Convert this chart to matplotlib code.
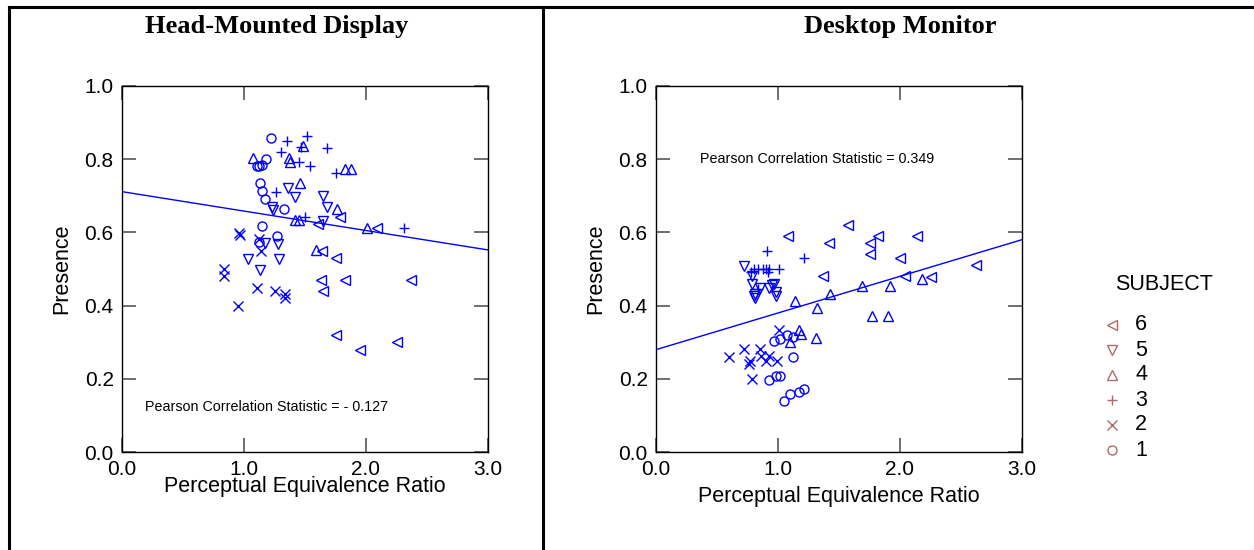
import matplotlib.pyplot as plt
from matplotlib.lines import Line2D
import numpy as np

# Marker per subject
SUBJECT_MARKERS = {1: 'o', 2: 'x', 3: '+', 4: '^', 5: 'v', 6: '<'}
POINT_COLOR = '#0000ff'
LEGEND_COLOR = '#b06a6a'

# Head-Mounted Display data (x = perceptual equivalence ratio, y = presence)
hmd_x = {
    1: [1.22, 1.18, 1.15, 1.11, 1.12, 1.13, 1.15, 1.17, 1.33, 1.15, 1.27, 1.12],
    2: [0.96, 0.97, 1.12, 1.14, 0.84, 0.84, 1.11, 1.25, 1.34, 1.34, 0.95],
    3: [1.35, 1.52, 1.47, 1.68, 1.30, 1.45, 1.54, 1.75, 1.26, 1.50, 2.31],
    4: [1.07, 1.37, 1.38, 1.48, 1.83, 1.88, 1.46, 1.76, 1.42, 1.45, 2.01, 1.59],
    5: [1.36, 1.42, 1.65, 1.68, 1.23, 1.235, 1.65, 1.17, 1.28, 1.03, 1.29, 1.13],
    6: [1.79, 2.09, 1.61, 1.64, 1.75, 1.63, 1.83, 2.37, 1.65, 1.75, 1.95, 2.25],
}
hmd_y = {
    1: [0.856, 0.80, 0.785, 0.78, 0.78, 0.735, 0.713, 0.69, 0.665, 0.617, 0.59, 0.574],
    2: [0.597, 0.593, 0.581, 0.55, 0.499, 0.481, 0.449, 0.44, 0.432, 0.422, 0.399],
    3: [0.85, 0.863, 0.833, 0.831, 0.82, 0.791, 0.781, 0.761, 0.711, 0.641, 0.611],
    4: [0.803, 0.803, 0.791, 0.835, 0.773, 0.773, 0.734, 0.663, 0.634, 0.634, 0.613, 0.552],
    5: [0.72, 0.697, 0.699, 0.668, 0.668, 0.661, 0.631, 0.57, 0.568, 0.527, 0.528, 0.498],
    6: [0.641, 0.611, 0.622, 0.55, 0.529, 0.47, 0.47, 0.47, 0.44, 0.319, 0.279, 0.30],
}

# Desktop Monitor data
desk_x = {
    1: [0.97, 1.02, 1.07, 1.12, 1.12, 0.93, 0.98, 1.02, 1.05, 1.10, 1.17, 1.21],
    2: [1.01, 0.72, 0.85, 0.60, 0.77, 0.76, 0.86, 0.90, 0.93, 0.99, 0.79],
    3: [0.91, 1.21, 0.78, 0.80, 0.84, 0.88, 0.90, 0.92, 0.93, 1.01, 0.84],
    4: [1.14, 1.43, 1.32, 1.31, 1.17, 1.19, 1.10, 1.69, 1.92, 2.18, 1.77, 1.90],
    5: [0.72, 0.79, 0.79, 0.85, 0.81, 0.81, 0.97, 0.93, 0.98, 0.98, 0.80, 0.95],
    6: [1.57, 1.08, 1.42, 1.37, 1.82, 2.14, 1.75, 1.75, 2.00, 2.04, 2.25, 2.62],
}
desk_y = {
    1: [0.304, 0.31, 0.32, 0.315, 0.259, 0.197, 0.207, 0.209, 0.139, 0.159, 0.165, 0.172],
    2: [0.333, 0.281, 0.281, 0.26, 0.25, 0.241, 0.263, 0.25, 0.263, 0.25, 0.20],
    3: [0.549, 0.53, 0.492, 0.50, 0.50, 0.50, 0.50, 0.493, 0.50, 0.50, 0.445],
    4: [0.413, 0.433, 0.393, 0.313, 0.334, 0.322, 0.302, 0.453, 0.453, 0.472, 0.372, 0.372],
    5: [0.509, 0.481, 0.46, 0.449, 0.433, 0.421, 0.46, 0.448, 0.438, 0.427, 0.425, 0.455],
    6: [0.62, 0.59, 0.57, 0.48, 0.59, 0.59, 0.57, 0.54, 0.53, 0.48, 0.479, 0.51],
}

# Regression fits: (intercept, slope)
hmd_fit = (0.711, -0.053)
desk_fit = (0.28, 0.10)

hmd_corr_text = 'Pearson Correlation Statistic = - 0.127'
desk_corr_text = 'Pearson Correlation Statistic = 0.349'

x_ticks = [0.0, 1.0, 2.0, 3.0]
y_ticks = [0.0, 0.2, 0.4, 0.6, 0.8, 1.0]

SANS = 'Liberation Sans'
SERIF = 'Liberation Serif'
W, H = 1254, 550


def draw_panel(ax, xs, ys, fit, corr_text, corr_pos, xlabel_y):
    for subj, marker in SUBJECT_MARKERS.items():
        filled = marker in ('x', '+')
        ax.plot(xs[subj], ys[subj], linestyle='none', marker=marker,
                markersize=7 if filled else 6.5,
                markerfacecolor=POINT_COLOR if filled else 'none',
                markeredgecolor=POINT_COLOR, markeredgewidth=1.0)

    line_x = np.array([0.0, 3.0])
    ax.plot(line_x, fit[0] + fit[1] * line_x, color=POINT_COLOR, linewidth=1.0)

    ax.text(corr_pos[0], corr_pos[1], corr_text, fontsize=10.3, family=SANS,
            color='black', va='center', ha='left')

    ax.set_xlim(0, 3)
    ax.set_ylim(0, 1)
    ax.set_xticks(x_ticks)
    ax.set_yticks(y_ticks)
    ax.set_xticklabels([f'{t:.1f}' for t in x_ticks], family=SANS, fontsize=15)
    ax.set_yticklabels([f'{t:.1f}' for t in y_ticks], family=SANS, fontsize=15)
    ax.tick_params(direction='in', length=10, width=1.2, color='#555555',
                   top=True, right=True)
    ax.tick_params(axis='x', pad=5.5)
    ax.tick_params(axis='y', pad=6)
    ax.set_xlabel('Perceptual Equivalence Ratio', family=SANS, fontsize=15.5)
    ax.set_ylabel('Presence', family=SANS, fontsize=15.5)
    ax.xaxis.set_label_coords(0.5, xlabel_y)
    ax.yaxis.set_label_coords(-0.136, 0.5)
    for spine in ax.spines.values():
        spine.set_color('black')
        spine.set_linewidth(1.0)


def main():
    fig = plt.figure(figsize=(W / 100, H / 100), dpi=100)

    ax1 = fig.add_axes([122 / W, 1 - 452.3 / H, 366 / W, 366.6 / H])
    ax2 = fig.add_axes([656 / W, 1 - 452.3 / H, 366 / W, 366.6 / H])

    draw_panel(ax1, hmd_x, hmd_y, hmd_fit, hmd_corr_text, (0.19, 0.124), -0.066)
    draw_panel(ax2, desk_x, desk_y, desk_fit, desk_corr_text, (0.36, 0.80), -0.093)

    # Panel titles
    fig.text(277 / W, 1 - 26 / H, 'Head-Mounted Display', family=SERIF,
             fontweight='bold', fontsize=19, ha='center', va='center')
    fig.text(900 / W, 1 - 26 / H, 'Desktop Monitor', family=SERIF,
             fontweight='bold', fontsize=19, ha='center', va='center')

    # Outer frame lines
    frame_kw = dict(color='black', linewidth=2.2, transform=fig.transFigure)
    fig.add_artist(Line2D([8.5 / W, 1.0], [1 - 6.5 / H, 1 - 6.5 / H], **frame_kw))
    fig.add_artist(Line2D([8.5 / W, 8.5 / W], [0, 1 - 6.5 / H], **frame_kw))
    fig.add_artist(Line2D([543 / W, 543 / W], [0, 1 - 6.5 / H], **frame_kw))

    # Legend (drawn by hand to match the original layout)
    fig.text(1164 / W, 1 - 285 / H, 'SUBJECT', family=SANS, fontsize=15.5,
             ha='center', va='center')
    for k, subj in enumerate(sorted(SUBJECT_MARKERS, reverse=True)):
        row_y = 1 - (325 + 25 * k) / H
        fig.add_artist(Line2D([1112 / W], [row_y], transform=fig.transFigure,
                              linestyle='none', marker=SUBJECT_MARKERS[subj],
                              markersize=6.5, markerfacecolor='none',
                              markeredgecolor=LEGEND_COLOR, markeredgewidth=1.0))
        fig.text(1135 / W, row_y, str(subj), family=SANS, fontsize=15.5,
                 ha='left', va='center')

    plt.savefig('out.png', dpi=100, facecolor='white')
    plt.close()


if __name__ == '__main__':
    main()
